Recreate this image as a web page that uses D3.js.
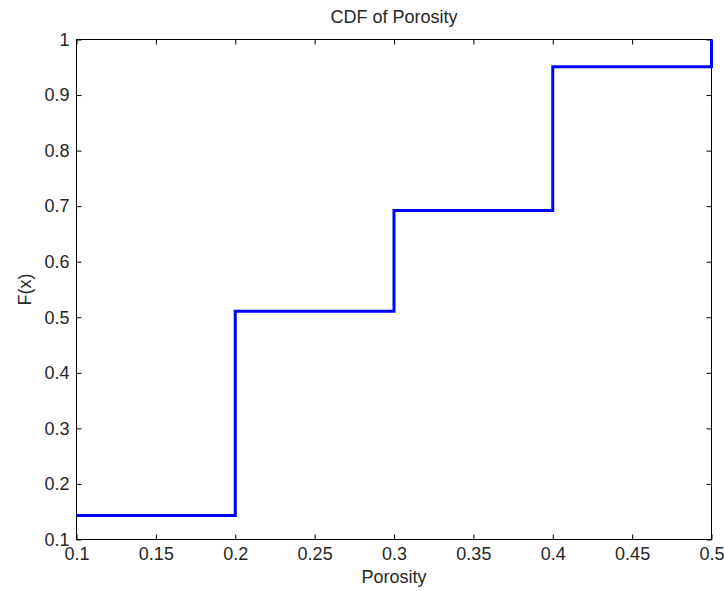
<!DOCTYPE html>
<html>
<head>
<meta charset="utf-8">
<script src="https://cdn.jsdelivr.net/npm/d3@7"></script>
<style>
  body { margin: 0; background: #fff; }
  text { font-family: "Liberation Sans", Arial, sans-serif; fill: #262626; }
</style>
</head>
<body>
<div id="chart"></div>
<script>
(function () {

  // step points of the empirical CDF
  var porosity = [0.1, 0.2, 0.3, 0.4, 0.5]
  var cdf = [0.143, 0.511, 0.692, 0.951, 1.0]

  var xTicks = [0.1, 0.15, 0.2, 0.25, 0.3, 0.35, 0.4, 0.45, 0.5]
  var yTicks = [0.1, 0.2, 0.3, 0.4, 0.5, 0.6, 0.7, 0.8, 0.9, 1]

  var margin = { top: 39.5, right: 12.5, bottom: 51.5, left: 76.5 }
  var width = 724 - margin.left - margin.right,
      height = 591 - margin.top - margin.bottom

  var fontSize = "18px"

  var svg = d3.select("#chart").append("svg")
      .attr("width", 724)
      .attr("height", 591)

  var g = svg.append("g")
      .attr("transform", "translate(" + margin.left + "," + margin.top + ")")

  var x = d3.scaleLinear().domain([0.1, 0.5]).range([0, width])
  var y = d3.scaleLinear().domain([0.1, 1]).range([height, 0])

  var fmt = function (d) { return String(+d.toFixed(2)) }

  // box
  g.append("rect")
    .attr("width", width)
    .attr("height", height)
    .attr("fill", "none")
    .attr("stroke", "#000")
    .attr("stroke-width", 1)

  // axes, ticks inside
  var xAxis = g.append("g")
    .attr("transform", "translate(0," + height + ")")
    .call(d3.axisBottom(x).tickValues(xTicks).tickFormat(fmt).tickSizeInner(-5).tickSizeOuter(0).tickPadding(8))
  var xTop = g.append("g")
    .call(d3.axisTop(x).tickValues(xTicks).tickFormat("").tickSizeInner(-5).tickSizeOuter(0))
  var yAxis = g.append("g")
    .call(d3.axisLeft(y).tickValues(yTicks).tickFormat(fmt).tickSizeInner(-5).tickSizeOuter(0).tickPadding(7))
  var yRight = g.append("g")
    .attr("transform", "translate(" + width + ",0)")
    .call(d3.axisRight(y).tickValues(yTicks).tickFormat("").tickSizeInner(-5).tickSizeOuter(0))

  ;[xAxis, xTop, yAxis, yRight].forEach(function (a) {
    a.select(".domain").remove()
    a.selectAll("line").attr("stroke", "#000")
    a.selectAll("text").style("font-size", fontSize).attr("fill", "#262626")
      .style("font-family", "'Liberation Sans', Arial, sans-serif")
  })

  // CDF line
  var pts = porosity.map(function (p, i) { return [p, cdf[i]] })
  var line = d3.line()
    .x(function (d) { return x(d[0]) })
    .y(function (d) { return y(d[1]) })
    .curve(d3.curveStepAfter)

  g.append("path")
    .datum(pts)
    .attr("d", line)
    .attr("fill", "none")
    .attr("stroke", "#0000ff")
    .attr("stroke-width", 3)

  // labels
  svg.append("text")
    .attr("x", margin.left + width / 2)
    .attr("y", 23)
    .attr("text-anchor", "middle")
    .style("font-size", fontSize)
    .text("CDF of Porosity")

  svg.append("text")
    .attr("x", margin.left + width / 2)
    .attr("y", 583)
    .attr("text-anchor", "middle")
    .style("font-size", fontSize)
    .text("Porosity")

  svg.append("text")
    .attr("transform", "translate(31," + (margin.top + height / 2) + ") rotate(-90)")
    .attr("text-anchor", "middle")
    .style("font-size", fontSize)
    .text("F(x)")

})()
</script>
</body>
</html>
